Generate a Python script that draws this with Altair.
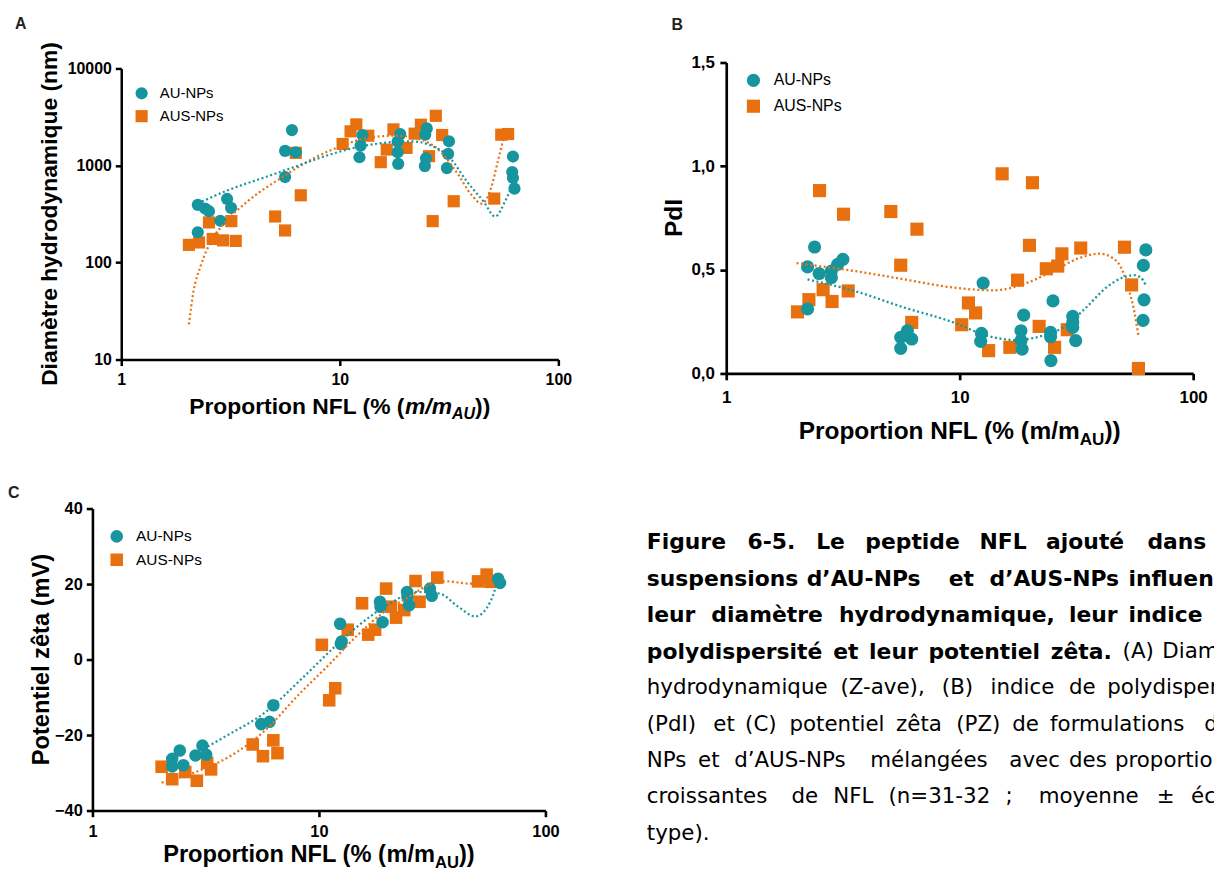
import altair as alt
import pandas as pd

TEAL = "#17959f"
ORANGE = "#e8700f"
AXF = "Liberation Sans"
CAPF = "DejaVu Sans"
W, H = 1214, 864
M = 8  # page coordinate = chart coordinate + M
SERIES = ["AU-NPs", "AUS-NPs"]

# ---------------- Panel A : diamètre hydrodynamique (nm) ----------------
A_AU_X = [2.24, 2.42, 2.52, 2.24, 2.84, 3.05, 3.18, 6.04, 5.62, 6.29, 5.62, 12.7, 12.45, 12.3,
          18.9, 18.4, 18.4, 18.5, 25.0, 24.6, 24.8, 24.5, 31.6, 31.3, 30.9, 62.0, 61.5, 62.0, 63.0]
A_AU_Y = [393, 360, 338, 205, 269, 452, 366, 2317, 1413, 1370, 760, 2061, 1603, 1217,
          2109, 1762, 1370, 1040, 2410, 2077, 1189, 985, 1775, 1317, 940, 1236, 855, 742, 577]
A_AUS_X = [2.04, 2.27, 2.52, 2.62, 2.92, 3.19, 3.34, 5.06, 5.62, 6.29, 6.63, 10.3, 11.2, 11.9, 13.5,
           15.4, 16.4, 17.6, 20.2, 22.0, 23.5, 25.6, 27.5, 26.6, 29.4, 33.2, 50.9, 54.8, 58.9]
A_AUS_Y = [152, 161, 259, 175, 169, 267, 167, 298, 214, 1349, 493, 1667, 2249, 2651, 2028,
           1082, 1459, 2355, 1517, 2128, 2630, 1247, 3251, 267, 2061, 428, 456, 2077, 2109]
A_FIT_AU_X = [2.34, 3.10, 4.39, 6.22, 8.82, 11.25, 14.9, 21.1, 26.0, 32.1, 38.2, 45.5, 51.4, 57.0, 61.5]
A_FIT_AU_Y = [425, 560, 736, 969, 1276, 1493, 1680, 1775, 1617, 1178, 681, 425, 298, 425, 620]
A_FIT_AUS_X = [2.04, 2.14, 2.32, 2.57, 2.96, 3.76, 5.62, 7.75, 10.3, 13.1, 18.0, 22.9, 28.0, 34.2,
               40.2, 44.5, 49.1, 53.2, 56.5]
A_FIT_AUS_Y = [23, 50, 95, 164, 253, 421, 790, 1216, 1603, 1905, 2028, 1876, 1482, 855,
               493, 405, 577, 1170, 2028]

# ---------------- Panel B : PdI ----------------
B_AU_X = [2.39, 2.23, 2.23, 2.50, 2.82, 2.82, 3.00, 3.16, 5.59, 5.59, 5.97, 6.23, 12.6, 12.4, 12.3,
          18.8, 18.3, 18.3, 18.5, 25.1, 24.5, 24.5, 24.6, 30.5, 30.5, 30.5, 31.4, 62.7, 61.2, 61.6, 61.0]
B_AU_Y = [0.610, 0.514, 0.311, 0.482, 0.494, 0.462, 0.526, 0.550, 0.174, 0.121, 0.206, 0.166, 0.436,
          0.193, 0.155, 0.281, 0.206, 0.158, 0.117, 0.350, 0.198, 0.177, 0.062, 0.275, 0.246, 0.222,
          0.158, 0.596, 0.521, 0.355, 0.256]
B_AUS_X = [2.02, 2.26, 2.51, 2.60, 2.84, 3.18, 3.33, 5.07, 5.59, 6.56, 6.23, 10.2, 10.9, 11.7, 13.3,
           15.2, 16.4, 17.7, 19.9, 20.5, 21.9, 23.5, 25.5, 26.3, 27.4, 28.9, 33.0, 50.8, 54.5, 58.3]
B_AUS_Y = [0.297, 0.356, 0.882, 0.404, 0.347, 0.768, 0.398, 0.781, 0.522, 0.696, 0.246, 0.235, 0.340,
           0.292, 0.110, 0.963, 0.126, 0.450, 0.618, 0.920, 0.227, 0.505, 0.126, 0.518, 0.577, 0.211,
           0.605, 0.609, 0.427, 0.024]
B_FIT_AU_X = [2.23, 3.54, 5.78, 9.42, 13.1, 17.5, 21.3, 27.7, 34.8, 42.4, 49.9, 55.9, 59.7, 62.7]
B_FIT_AU_Y = [0.454, 0.398, 0.318, 0.246, 0.182, 0.161, 0.174, 0.222, 0.318, 0.414, 0.462, 0.474, 0.462, 0.425]
B_FIT_AUS_X = [2.0, 3.54, 5.78, 9.42, 13.95, 18.7, 25.1, 32.6, 39.7, 45.2, 49.9, 53.2, 55.9, 58.3]
B_FIT_AUS_Y = [0.532, 0.494, 0.454, 0.414, 0.401, 0.430, 0.494, 0.557, 0.578, 0.557, 0.494, 0.398, 0.302, 0.182]

# ---------------- Panel C : potentiel zêta (mV) ----------------
C_AU_X = [2.25, 2.25, 2.43, 2.52, 2.85, 3.06, 3.18, 5.56, 6.05, 6.29, 12.4, 12.6, 12.5, 18.6, 18.7,
          19.1, 24.5, 24.6, 25.0, 30.9, 31.5, 61.8, 63.0]
C_AU_Y = [-26.3, -28.3, -24.1, -28.0, -25.4, -22.8, -25.2, -17.1, -16.5, -12.1, 9.5, 4.8, 4.1, 15.3,
          14.0, 9.9, 17.9, 16.6, 14.4, 18.8, 16.9, 21.4, 20.3]
C_AUS_X = [2.02, 2.25, 2.57, 2.89, 3.21, 3.34, 5.10, 5.66, 6.29, 6.56, 10.3, 11.1, 11.8, 13.4, 15.5,
           16.5, 17.7, 19.8, 20.8, 21.9, 23.8, 26.7, 27.8, 33.3, 50.4, 55.0, 57.2]
C_AUS_Y = [-28.4, -31.7, -29.8, -32.1, -27.4, -29.1, -22.5, -25.6, -21.4, -24.8, 3.9, -10.8, -7.6, 7.9,
           14.9, 6.6, 7.9, 18.8, 14.0, 11.1, 13.1, 20.8, 15.3, 21.7, 20.7, 22.5, 20.6]
C_FIT_AU_X = [3.1, 3.93, 5.78, 8.49, 11.6, 15.1, 20.6, 27.0, 34.0, 41.2, 49.0, 55.0, 59.4, 61.8]
C_FIT_AU_Y = [-23.6, -20.1, -14.0, -4.8, 3.1, 9.2, 14.9, 17.9, 17.5, 14.0, 11.4, 13.6, 17.9, 21.4]
C_FIT_AUS_X = [2.02, 3.0, 4.24, 5.78, 8.17, 11.1, 14.6, 19.1, 25.0, 30.3, 36.7, 46.3, 58.3]
C_FIT_AUS_Y = [-32.6, -29.3, -24.9, -18.8, -9.2, -1.3, 6.1, 12.3, 16.6, 19.7, 20.7, 20.1, 21.0]

X_TICKS = [1, 10, 100]
A_Y_TICKS = [10, 100, 1000, 10000]
B_Y_TICKS = [0, 0.5, 1.0, 1.5]
C_Y_TICKS = [-40, -20, 0, 20, 40]

# ---------------- caption ----------------
CAPTION = [
    [("Figure", 651, 1), ("6-5.", 752.5, 1), ("Le", 821.5, 1), ("peptide", 871, 1), ("NFL", 986, 1),
     ("ajouté", 1053, 1), ("dans", 1155, 1)],
    [("suspensions", 651, 1), ("d’AU-NPs", 812, 1), ("et", 955, 1), ("d’AUS-NPs", 996, 1),
     ("influencent", 1136, 1)],
    [("leur", 651, 1), ("diamètre", 716, 1), ("hydrodynamique,", 844.5, 1), ("leur", 1076, 1),
     ("indice", 1136, 1)],
    [("polydispersité", 651, 1), ("et", 838.7, 1), ("leur", 874.8, 1), ("potentiel", 934.5, 1),
     ("zêta.", 1057.7, 1), ("(A)", 1130, 0), ("Diamètre", 1170, 0)],
    [("hydrodynamique", 651, 0), ("(Z-ave),", 846, 0), ("(B)", 948, 0), ("indice", 997, 0),
     ("de", 1076, 0), ("polydispersité", 1114.6, 0)],
    [("(PdI)", 651, 0), ("et", 718, 0), ("(C)", 750, 0), ("potentiel", 794.7, 0), ("zêta", 902, 0),
     ("(PZ)", 962.5, 0), ("de", 1018.8, 0), ("formulations", 1057, 0), ("d’AU-", 1212.3, 0)],
    [("NPs", 651, 0), ("et", 702.7, 0), ("d’AUS-NPs", 739, 0), ("mélangées", 876, 0), ("avec", 1016, 0),
     ("des", 1076, 0), ("proportions", 1122.3, 0)],
    [("croissantes", 651, 0), ("de", 796.6, 0), ("NFL", 838.7, 0), ("(n=31-32", 894.3, 0), (";", 1012, 0),
     ("moyenne", 1045.6, 0), ("±", 1164.4, 0), ("écart-", 1198.9, 0)],
    [("type).", 651, 0)],
]
CAP_Y0, CAP_DY = 543, 36.7


def points_df(au_x, au_y, aus_x, aus_y):
    rows = [{"x": x, "y": y, "series": "AUS-NPs"} for x, y in zip(aus_x, aus_y)]
    rows += [{"x": x, "y": y, "series": "AU-NPs"} for x, y in zip(au_x, au_y)]
    return pd.DataFrame(rows)


def line_df(xs, ys):
    return pd.DataFrame({"x": xs, "y": ys})


def make_axis(orient, offset, values, fs, pad, tick, width, fmt=None, expr=None):
    kw = dict(orient=orient, offset=offset, values=values, title=None, grid=False,
              domainColor="black", domainWidth=width, tickColor="black", tickWidth=width,
              tickSize=tick, labelFont=AXF, labelFontWeight="bold", labelFontSize=fs,
              labelColor="black", labelPadding=pad, labelFlush=False, labelOverlap=False)
    if fmt:
        kw["format"] = fmt
    if expr:
        kw["labelExpr"] = expr
    return alt.Axis(**kw)


def panel(pts, fit_au, fit_aus, xs, ys, xa, ya, legend, size, lw):
    ex = alt.X("x:Q", scale=xs, axis=xa)
    ey = alt.Y("y:Q", scale=ys, axis=ya)
    color = alt.Color("series:N", scale=alt.Scale(domain=SERIES, range=[TEAL, ORANGE]), legend=legend)
    shape = alt.Shape("series:N", scale=alt.Scale(domain=SERIES, range=["circle", "square"]), legend=legend)
    p = alt.Chart(pts).mark_point(filled=True, opacity=1, size=size, strokeWidth=0).encode(
        x=ex, y=ey, color=color, shape=shape)
    l1 = alt.Chart(fit_aus).mark_line(color=ORANGE, strokeDash=[2, 2.6], strokeWidth=lw,
                                      interpolate="monotone").encode(x=ex, y=ey)
    l2 = alt.Chart(fit_au).mark_line(color=TEAL, strokeDash=[2, 2.6], strokeWidth=lw,
                                     interpolate="monotone").encode(x=ex, y=ey)
    return alt.layer(p, l1, l2)


def make_legend(lx, ly, fs, size, rowpad, loff):
    return alt.Legend(orient="none", legendX=lx, legendY=ly, title=None, padding=0,
                      labelFont=AXF, labelFontSize=fs, labelColor="black", symbolSize=size,
                      symbolStrokeWidth=0, symbolOpacity=1, rowPadding=rowpad, labelOffset=loff)


# ---- panel A (chart coords = page - 8) ----
xsA = alt.Scale(type="log", domain=[1, 100], range=[114, 554], nice=False)
ysA = alt.Scale(type="log", domain=[10, 10000], range=[351, 58], nice=False)
panelA = panel(points_df(A_AU_X, A_AU_Y, A_AUS_X, A_AUS_Y),
               line_df(A_FIT_AU_X, A_FIT_AU_Y), line_df(A_FIT_AUS_X, A_FIT_AUS_Y),
               xsA, ysA,
               make_axis("bottom", 351 - H, X_TICKS, 16, 6, 6, 2.5, fmt="d"),
               make_axis("left", -114, A_Y_TICKS, 16, 4, 6, 2.5, fmt="d"),
               make_legend(127, 75.5, 15, 150, 7, 10.8), 150, 2.2)

# ---- panel B ----
xsB = alt.Scale(type="log", domain=[1, 100], range=[723, 1193], nice=False)
ysB = alt.Scale(domain=[0, 1.5], range=[365, 52], nice=False, zero=False)
panelB = panel(points_df(B_AU_X, B_AU_Y, B_AUS_X, B_AUS_Y),
               line_df(B_FIT_AU_X, B_FIT_AU_Y), line_df(B_FIT_AUS_X, B_FIT_AUS_Y),
               xsB, ysB,
               make_axis("bottom", 365 - H, X_TICKS, 17, 10, 6.4, 2.7, fmt="d"),
               make_axis("left", -723, B_Y_TICKS, 17, 5.5, 6.4, 2.7,
                         expr="replace(format(datum.value, '.1f'), '.', ',')"),
               make_legend(742.4, 62, 16, 175, 10, 12.4), 175, 2.3)

# ---- panel C ----
xsC = alt.Scale(type="log", domain=[1, 100], range=[85, 541], nice=False)
ysC = alt.Scale(domain=[-40, 40], range=[805, 501], nice=False, zero=False)
panelC = panel(points_df(C_AU_X, C_AU_Y, C_AUS_X, C_AUS_Y),
               line_df(C_FIT_AU_X, C_FIT_AU_Y), line_df(C_FIT_AUS_X, C_FIT_AUS_Y),
               xsC, ysC,
               make_axis("bottom", 805 - H, X_TICKS, 16.5, 7, 6.2, 2.6, fmt="d"),
               make_axis("left", -85, C_Y_TICKS, 16.5, 4, 6.2, 2.6, fmt="d"),
               make_legend(101.7, 521.3, 15.5, 160, 6.5, 11.7), 160, 2.2)

# ---------------- annotation text ----------------
AB = {'P': 667, 'r': 389, 'o': 611, 'p': 611, 't': 333, 'i': 278, 'n': 611, ' ': 278, 'N': 722,
      'F': 611, 'L': 611, '(': 333, '%': 889, 'm': 889, '/': 278, ')': 333, 'A': 722, 'U': 722}


def tw(s, fs):
    return sum(AB[c] for c in s) * fs / 1000.0


def xtitle(cx, base, fs, italic):
    parts = [("Proportion NFL (% (", fs, 0.0, False), ("m/m", fs, 0.0, italic),
             ("AU", 0.7 * fs, 0.25 * fs, italic), ("))", fs, 0.0, False)]
    total = sum(tw(t, f) for t, f, _, _ in parts)
    x = cx - total / 2.0
    normal, ital = [], []
    for t, f, dy, it in parts:
        row = {"t": t, "px": x - M, "py": base + dy - M, "fs": f}
        (ital if it else normal).append(row)
        x += tw(t, f)
    return normal, ital


n_rows, i_rows = [], []
for cx, base, fs, it in [(342, 413.5, 23, True), (966, 439, 24.6, False), (321, 865, 23.8, False)]:
    a, b = xtitle(cx, base, fs, it)
    n_rows += a
    i_rows += b

ytitles = pd.DataFrame([
    {"t": "Diamètre hydrodynamique (nm)", "px": 57 - M, "py": 212.5 - M, "fs": 23},
    {"t": "PdI", "px": 686 - M, "py": 216.5 - M, "fs": 24.6},
    {"t": "Potentiel zêta (mV)", "px": 49.5 - M, "py": 661 - M, "fs": 23.8},
])
letters = pd.DataFrame([
    {"t": "A", "px": 15 - M, "py": 26 - M, "fs": 16},
    {"t": "B", "px": 676 - M, "py": 27 - M, "fs": 16},
    {"t": "C", "px": 8 - M, "py": 498.5 - M, "fs": 16},
])

cap_b, cap_r = [], []
for i, line in enumerate(CAPTION):
    for word, x, bold in line:
        row = {"t": word, "px": x - M, "py": CAP_Y0 + CAP_DY * i - M}
        if bold:
            row["fs"] = 22
            cap_b.append(row)
        else:
            row["fs"] = 21.5
            cap_r.append(row)


def text_layer(df, **mark):
    return alt.Chart(df).mark_text(**mark).encode(
        x=alt.X("px:Q", scale=None, axis=None),
        y=alt.Y("py:Q", scale=None, axis=None),
        text="t:N",
        size=alt.Size("fs:Q", scale=None, legend=None))


t_norm = text_layer(pd.DataFrame(n_rows), align="left", baseline="alphabetic", font=AXF,
                    fontWeight="bold", color="black")
t_ital = text_layer(pd.DataFrame(i_rows), align="left", baseline="alphabetic", font=AXF,
                    fontWeight="bold", fontStyle="italic", color="black")
t_ytit = text_layer(ytitles, align="center", baseline="alphabetic", font=AXF, fontWeight="bold",
                    color="black", angle=270)
t_let = text_layer(letters, align="left", baseline="alphabetic", font=AXF, fontWeight="bold",
                   color="#222222")
t_capb = text_layer(pd.DataFrame(cap_b), align="left", baseline="middle", font=CAPF,
                    fontWeight="bold", color="black")
t_capr = text_layer(pd.DataFrame(cap_r), align="left", baseline="middle", font=CAPF,
                    fontWeight="normal", color="black")

chart = alt.layer(panelA, panelB, panelC, t_norm, t_ital, t_ytit, t_let, t_capb, t_capr).resolve_scale(
    x="independent", y="independent", color="independent", shape="independent"
).properties(
    width=W, height=H, autosize=alt.AutoSizeParams(type="none"), padding=0
).configure_view(stroke=None)

chart.save("out.html", embed_options={"renderer": "svg", "actions": False})
